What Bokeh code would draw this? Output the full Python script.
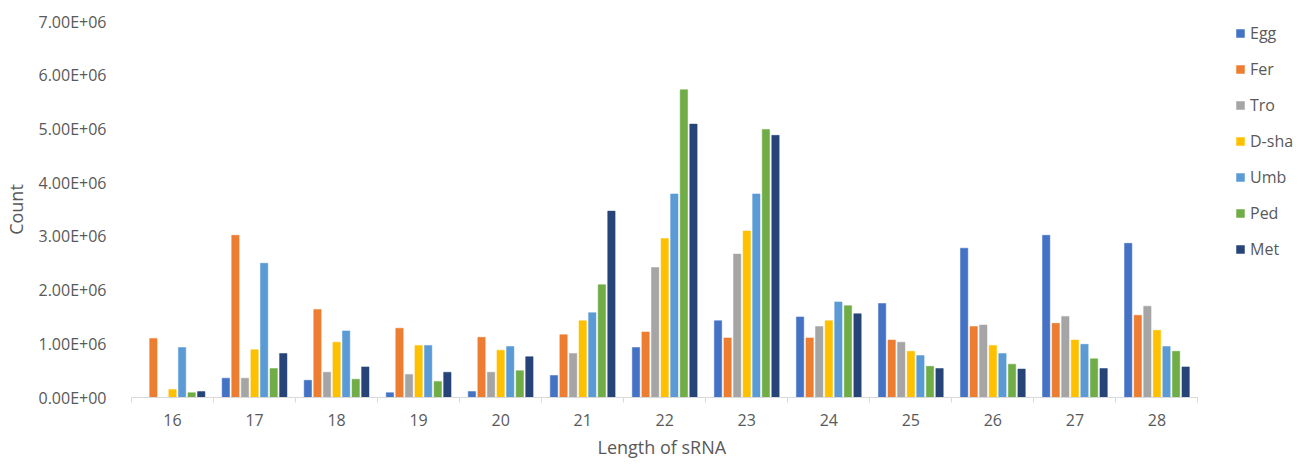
from bokeh.plotting import figure
from bokeh.models import (ColumnDataSource, Range1d, FixedTicker, Legend, LegendItem, Title)
from bokeh.transform import dodge
from bokeh.embed import file_html
from bokeh.resources import INLINE

lengths = ["16", "17", "18", "19", "20", "21", "22", "23", "24", "25", "26", "27", "28"]
series_names = ["Egg", "Fer", "Tro", "D-sha", "Umb", "Ped", "Met"]
egg = [0.00e6, 0.36e6, 0.32e6, 0.09e6, 0.11e6, 0.41e6, 0.93e6, 1.43e6, 1.50e6, 1.75e6, 2.78e6, 3.02e6, 2.87e6]
fer = [1.10e6, 3.02e6, 1.64e6, 1.29e6, 1.12e6, 1.17e6, 1.22e6, 1.11e6, 1.11e6, 1.07e6, 1.32e6, 1.38e6, 1.53e6]
tro = [0.00e6, 0.36e6, 0.47e6, 0.43e6, 0.47e6, 0.82e6, 2.42e6, 2.67e6, 1.32e6, 1.03e6, 1.35e6, 1.51e6, 1.70e6]
dsha = [0.15e6, 0.89e6, 1.03e6, 0.97e6, 0.88e6, 1.43e6, 2.96e6, 3.10e6, 1.43e6, 0.86e6, 0.97e6, 1.07e6, 1.25e6]
umb = [0.93e6, 2.50e6, 1.24e6, 0.97e6, 0.95e6, 1.58e6, 3.79e6, 3.79e6, 1.78e6, 0.78e6, 0.82e6, 0.99e6, 0.95e6]
ped = [0.09e6, 0.54e6, 0.34e6, 0.30e6, 0.50e6, 2.10e6, 5.73e6, 4.99e6, 1.71e6, 0.58e6, 0.62e6, 0.72e6, 0.86e6]
met = [0.11e6, 0.82e6, 0.57e6, 0.47e6, 0.76e6, 3.47e6, 5.09e6, 4.88e6, 1.56e6, 0.54e6, 0.53e6, 0.54e6, 0.57e6]
y_ticks = [0, 1e6, 2e6, 3e6, 4e6, 5e6, 6e6, 7e6]
y_tick_labels = ["0.00E+00", "1.00E+06", "2.00E+06", "3.00E+06", "4.00E+06", "5.00E+06", "6.00E+06", "7.00E+06"]

colors = ["#4472C4", "#ED7D31", "#A5A5A5", "#FFC000", "#5B9BD5", "#70AD47", "#264478"]
series_values = [egg, fer, tro, dsha, umb, ped, met]
keys = ["egg", "fer", "tro", "dsha", "umb", "ped", "met"]

n = len(lengths)
centers = [i + 0.5 for i in range(n)]       # category slot centres
edges = list(range(n + 1))                  # category slot boundaries

data = {"pos": centers, "length": lengths}
for k, v in zip(keys, series_values):
    data[k] = v
source = ColumnDataSource(data)

FONT = "Open Sans"
TXT = "#595959"

# the frame extends to the right edge so the legend can sit inside it;
# the axis line itself is bounded to the category slots
p = figure(x_range=Range1d(0, 14.25), y_range=Range1d(0, 7e6),
           width=1300, height=465, output_backend="svg", toolbar_location=None,
           min_border_left=127, min_border_right=0, min_border_top=21, min_border_bottom=68,
           background_fill_color="white", border_fill_color="white")
p.outline_line_color = None
p.xgrid.grid_line_color = None
p.ygrid.grid_line_color = None

# y axis
ya = p.yaxis[0]
ya.ticker = FixedTicker(ticks=y_ticks)
ya.major_label_overrides = {t: l for t, l in zip(y_ticks, y_tick_labels)}
ya.axis_line_color = None
ya.major_tick_line_color = None
ya.minor_tick_line_color = None
ya.major_label_standoff = 19
ya.major_label_text_font = FONT
ya.major_label_text_font_size = "16px"
ya.major_label_text_color = TXT
ya.axis_label = "Count"
ya.axis_label_text_font = FONT
ya.axis_label_text_font_size = "18px"
ya.axis_label_text_font_style = "normal"
ya.axis_label_text_color = TXT
ya.axis_label_standoff = 8

# x axis: labels at slot centres, tick marks at slot boundaries
xa = p.xaxis[0]
xa.bounds = (0, n)
xa.ticker = FixedTicker(ticks=centers, minor_ticks=edges)
xa.major_label_overrides = {c: l for c, l in zip(centers, lengths)}
xa.axis_line_color = "#D9D9D9"
xa.major_tick_line_color = None
xa.major_tick_in = 0
xa.major_tick_out = 5
xa.minor_tick_line_color = "#D9D9D9"
xa.minor_tick_in = 0
xa.minor_tick_out = 5
xa.major_label_standoff = 11
xa.major_label_text_font = FONT
xa.major_label_text_font_size = "16px"
xa.major_label_text_color = TXT

# x axis title, centred under the category slots (not the whole frame)
xtitle = Title(text="Length of sRNA", align="left", offset=466, standoff=8,
               text_font=FONT, text_font_size="18px", text_font_style="normal",
               text_color=TXT)
p.add_layout(xtitle, "below")

pitch = 0.1167
items = []
for i, (k, name, c) in enumerate(zip(keys, series_names, colors)):
    r = p.vbar(x=dodge("pos", (i - 3) * pitch), top=k, width=0.09,
               source=source, fill_color=c, line_color=c, line_width=0.5)
    items.append(LegendItem(label=name, renderers=[r]))

legend = Legend(items=items, location=(1104, 137), orientation="vertical",
                glyph_width=10, glyph_height=10, label_height=22, spacing=14,
                label_standoff=5, padding=0, margin=0,
                label_text_font=FONT, label_text_font_size="16px", label_text_color=TXT,
                border_line_color=None, background_fill_alpha=0)
p.add_layout(legend, "center")

open("out.html", "w").write(file_html(p, INLINE))
